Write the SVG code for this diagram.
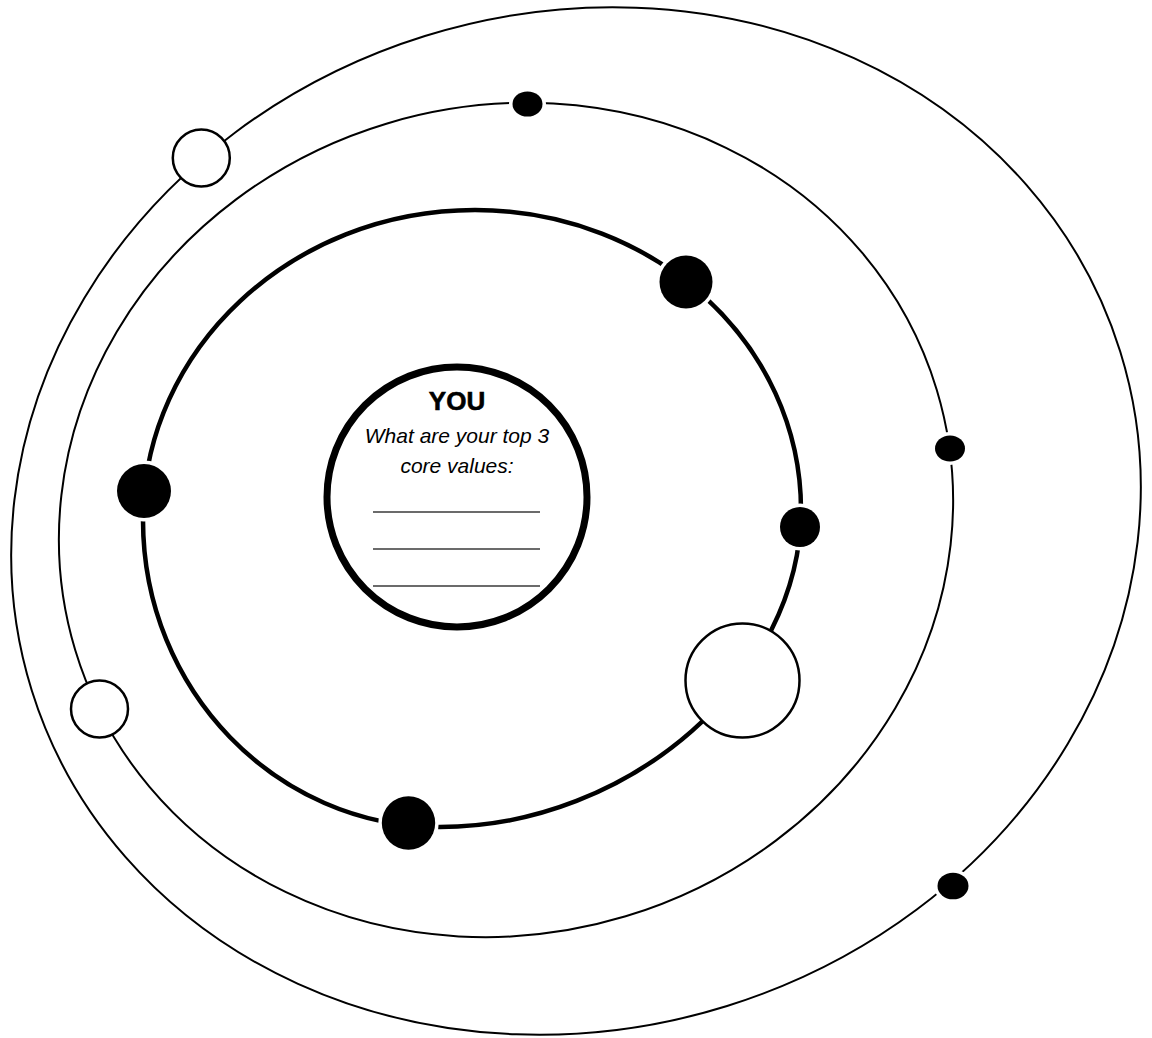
<svg xmlns="http://www.w3.org/2000/svg" width="1152" height="1038" viewBox="0 0 1152 1038">
  <style>
    .orbit { fill: none; stroke: #000; }
    .thin { stroke-width: 2; }
    .thick { stroke-width: 4.5; }
    .dot { fill: #000; stroke: #fff; stroke-width: 7; paint-order: stroke; }
    .hollow { fill: #fff; stroke: #000; stroke-width: 2.5; }
    .you { font-family: "Liberation Sans", Arial, sans-serif; font-weight: bold; font-size: 26px; text-anchor: middle; fill: #000; stroke: #000; stroke-width: 0.6; }
    .q { font-family: "Liberation Sans", Arial, sans-serif; font-style: italic; font-size: 21px; text-anchor: middle; fill: #000; }
    .blank { stroke: #3a3a3a; stroke-width: 1.3; }
  </style>
  <rect width="1152" height="1038" fill="#fff"/>
  <g id="orbits">
    <ellipse class="orbit thin" cx="576" cy="521" rx="570" ry="508" transform="rotate(-17.3 576 521)"/>
    <ellipse class="orbit thin" cx="506" cy="520" rx="450" ry="414" transform="rotate(-16.8 506 520)"/>
    <path class="orbit thick" d="M475,210 C655,210 801,344 801,510 C801,677 630,827 440,827 C276,827 143,690 143,520 C143,349 292,210 475,210 Z"/>
  </g>
  <g id="you">
    <circle cx="457" cy="497" r="130" fill="#fff" stroke="#000" stroke-width="7"/>
    <text class="you" x="457" y="410">YOU</text>
    <text class="q" x="457" y="443">What are your top 3</text>
    <text class="q" x="457" y="473">core values:</text>
    <line class="blank" x1="373" y1="512" x2="540" y2="512"/>
    <line class="blank" x1="373" y1="549" x2="540" y2="549"/>
    <line class="blank" x1="373" y1="586" x2="540" y2="586"/>
  </g>
  <g id="planet-inner-1"><circle class="dot" cx="686" cy="282" r="26.5"/></g>
  <g id="planet-inner-2"><circle class="dot" cx="800" cy="527" r="20"/></g>
  <g id="planet-inner-3"><circle class="hollow" cx="742.5" cy="680.5" r="57"/></g>
  <g id="planet-inner-4"><circle class="dot" cx="408.5" cy="823" r="26.7"/></g>
  <g id="planet-inner-5"><circle class="dot" cx="144" cy="491" r="27"/></g>
  <g id="planet-middle-1"><ellipse class="dot" cx="527.5" cy="104" rx="15" ry="12.6"/></g>
  <g id="planet-middle-2"><ellipse class="dot" cx="950" cy="448.5" rx="15" ry="13"/></g>
  <g id="planet-middle-3"><circle class="hollow" cx="99.5" cy="709" r="28.5"/></g>
  <g id="planet-outer-1"><circle class="hollow" cx="201.3" cy="158" r="28.5"/></g>
  <g id="planet-outer-2"><ellipse class="dot" cx="953" cy="886" rx="15.5" ry="13.3"/></g>
</svg>
